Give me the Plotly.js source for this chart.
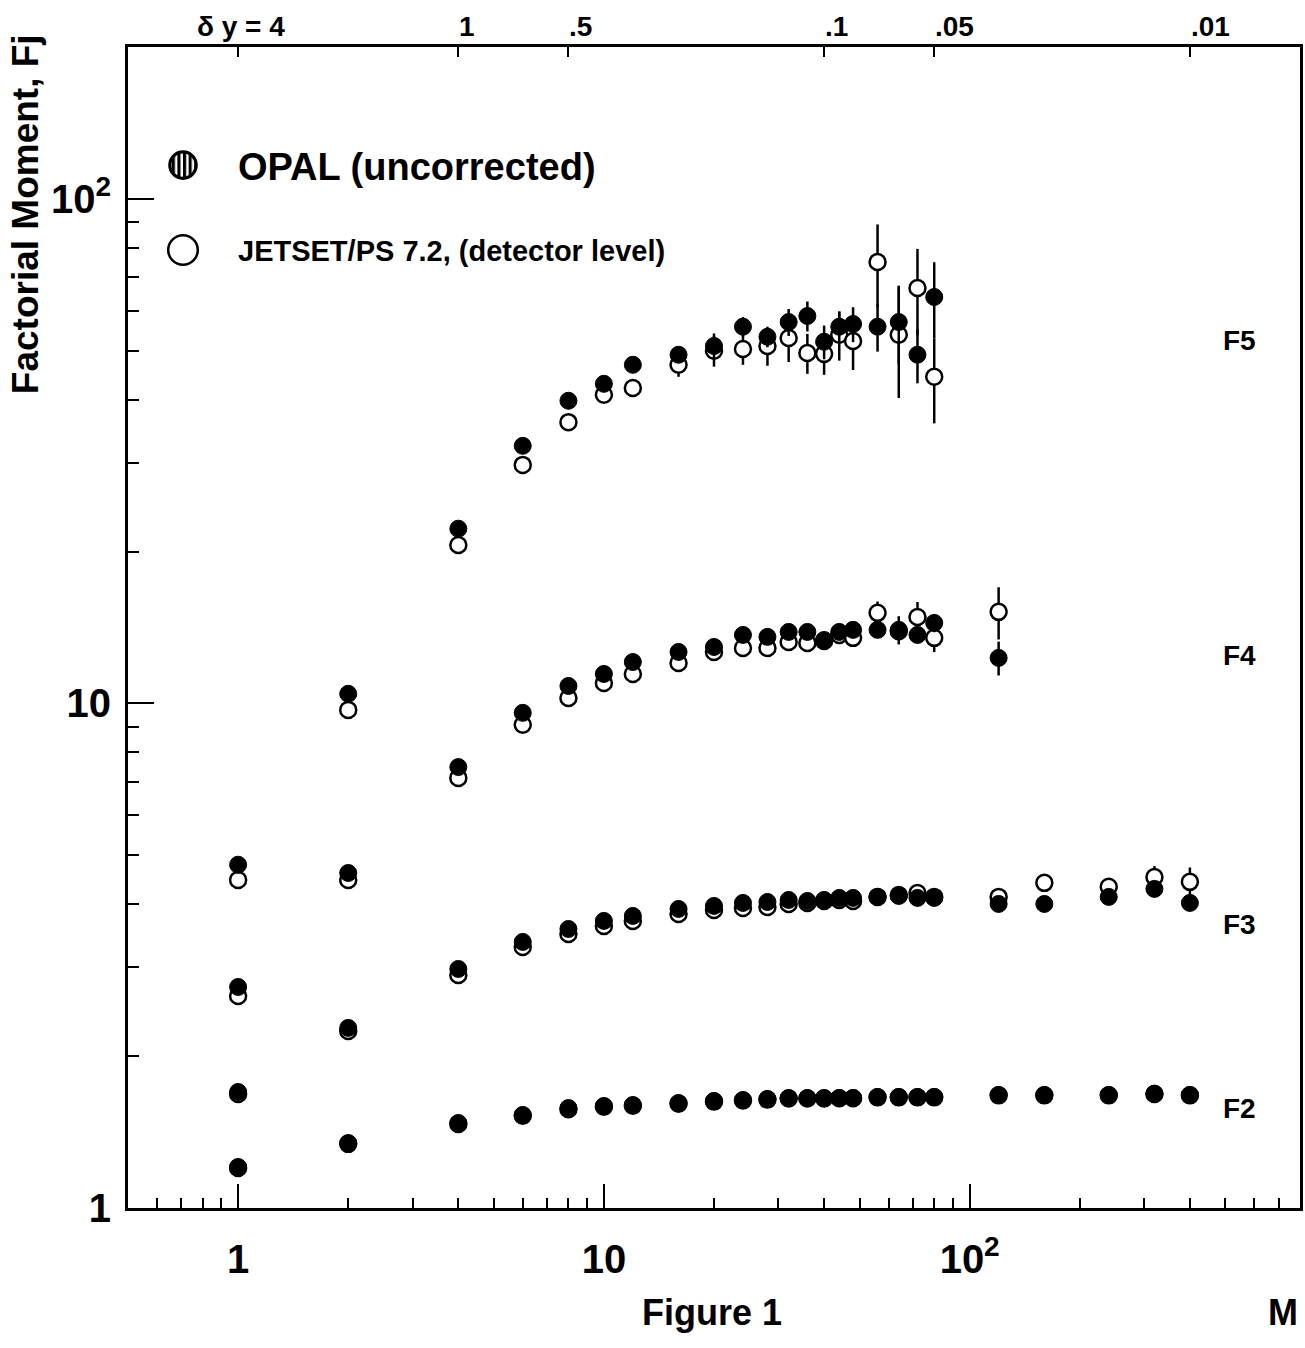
<!DOCTYPE html>
<html>
<head>
<meta charset="utf-8">
<script src="https://cdn.plot.ly/plotly-3.0.1.min.js"></script>
<style>
html,body{margin:0;padding:0;background:#ffffff;}
#chart{width:1305px;height:1348px;}
</style>
</head>
<body>
<div id="chart"></div>
<script>
// ---------- data ----------
const M_ALL = [1, 2, 4, 6, 8, 10, 12, 16, 20, 24, 28, 32, 36, 40, 44, 48, 56, 64, 72, 80, 120, 160, 240, 320, 400];
const M_F4 = [1, 2, 4, 6, 8, 10, 12, 16, 20, 24, 28, 32, 36, 40, 44, 48, 56, 64, 72, 80, 120];
const M_F5 = [1, 2, 4, 6, 8, 10, 12, 16, 20, 24, 28, 32, 36, 40, 44, 48, 56, 64, 72, 80];

const F2_OPAL   = [1.206, 1.345, 1.474, 1.529, 1.578, 1.593, 1.600, 1.615, 1.630, 1.637, 1.645, 1.652, 1.652, 1.652, 1.652, 1.652, 1.660, 1.660, 1.660, 1.660, 1.675, 1.675, 1.675, 1.685, 1.675];
const F2_JETSET = [1.200, 1.340, 1.468, 1.524, 1.570, 1.588, 1.595, 1.610, 1.625, 1.633, 1.640, 1.648, 1.648, 1.648, 1.650, 1.650, 1.657, 1.657, 1.657, 1.657, 1.672, 1.672, 1.672, 1.682, 1.672];

const F3_OPAL   = [1.698, 2.275, 2.977, 3.368, 3.573, 3.707, 3.792, 3.915, 3.969, 4.024, 4.042, 4.079, 4.060, 4.079, 4.117, 4.117, 4.136, 4.155, 4.117, 4.117, 4.005, 4.005, 4.136, 4.290, 4.024];
const F3_JETSET = [1.683, 2.243, 2.896, 3.292, 3.492, 3.623, 3.707, 3.826, 3.897, 3.933, 3.950, 4.005, 4.024, 4.060, 4.079, 4.060, 4.136, 4.170, 4.210, 4.136, 4.136, 4.410, 4.330, 4.530, 4.430];
const F3_OPAL_ERR   = [0, 0, 0, 0, 0, 0, 0, 0, 0, 0, 0, 0, 0, 0, 0, 0, 0, 0, 0, 0, 0.04, 0.05, 0.05, 0.08, 0.08];
const F3_JETSET_ERR = [0, 0, 0, 0, 0, 0, 0, 0, 0, 0, 0, 0, 0, 0, 0, 0, 0, 0, 0, 0, 0.05, 0.06, 0.08, 0.23, 0.30];

const F4_OPAL   = [2.742, 4.613, 7.48, 9.58, 10.83, 11.44, 12.08, 12.65, 12.94, 13.67, 13.55, 13.86, 13.86, 13.36, 13.86, 13.99, 13.99, 13.99, 13.67, 14.44, 12.31];
const F4_JETSET = [2.632, 4.468, 7.12, 9.07, 10.25, 10.98, 11.44, 12.03, 12.65, 12.88, 12.88, 13.24, 13.18, 13.30, 13.67, 13.49, 15.12, 13.90, 14.84, 13.49, 15.19];
const F4_OPAL_ERR   = [0, 0, 0, 0, 0, 0, 0, 0, 0, 0, 0, 0, 0, 0, 0.2, 0.2, 0.5, 0.9, 0.5, 0.6, 0.95];
const F4_JETSET_ERR = [0, 0, 0, 0, 0, 0, 0, 0, 0, 0, 0, 0, 0, 0, 0.3, 0.3, 0.8, 0.5, 1.05, 0.85, 1.8];

const F5_OPAL   = [4.79, 10.45, 22.2, 32.4, 39.8, 43.0, 46.9, 49.1, 51.1, 55.8, 53.3, 57.0, 58.6, 52.1, 55.8, 56.5, 55.8, 57.0, 49.1, 63.9];
const F5_JETSET = [4.47, 9.71, 20.6, 29.7, 36.1, 40.9, 42.2, 46.9, 50.0, 50.4, 51.1, 53.0, 49.5, 49.3, 53.8, 52.3, 75.0, 53.8, 66.6, 44.4];
const F5_OPAL_ERR   = [0, 0, 0, 0, 0, 0, 0, 1.2, 3.0, 2.5, 2.5, 3.5, 4.0, 4.0, 4.0, 4.5, 6.0, 10.0, 6.0, 11.0];
const F5_JETSET_ERR = [0, 0, 0, 0, 1.0, 1.5, 1.5, 2.5, 3.5, 3.5, 4.4, 5.5, 4.5, 4.5, 6.0, 6.5, 14.0, 13.5, 13.0, 8.5];

const X_TICKS = [1, 10, 100];
const X_TICKTEXT = ['1', '10', '10<sup>2</sup>'];
const Y_TICKS = [1, 10, 100];
const Y_TICKTEXT = ['1', '10', '10<sup>2</sup>'];
const TOP_TICKS_M = [1, 4, 8, 40, 80, 400];
const TOP_TICKTEXT = ['δ y = 4', '1', '.5', '.1', '.05', '.01'];
const CURVE_LABELS = ['F5', 'F4', 'F3', 'F2'];
const LEGEND_NAMES = ['OPAL (uncorrected)', 'JETSET/PS 7.2, (detector level)'];

// ---------- styling ----------
const FAM = 'Liberation Sans, Arial, Helvetica, sans-serif';
const bold = (s) => ({family: FAM, size: s, color: '#000000', weight: 'bold'});

function errObj(arr) {
  return {type: 'data', array: arr, visible: true, color: '#000000', thickness: 2.5, width: 0};
}
function jetTrace(x, y, err, showLegend) {
  return {
    type: 'scatter', mode: 'markers', x: x, y: y, name: LEGEND_NAMES[1],
    legend: 'legend2', legendgroup: 'jet', showlegend: showLegend,
    marker: {symbol: 'circle', size: 16, color: '#ffffff', line: {color: '#000000', width: 2.5}},
    error_y: err ? errObj(err) : {visible: false},
    hoverinfo: 'skip'
  };
}
function opalTrace(x, y, err, showLegend) {
  return {
    type: 'scatter', mode: 'markers', x: x, y: y, name: LEGEND_NAMES[0],
    legend: 'legend', legendgroup: 'opal', showlegend: showLegend,
    marker: {symbol: 'circle', size: 17, color: '#000000', line: {color: '#000000', width: 1}},
    error_y: err ? errObj(err) : {visible: false},
    hoverinfo: 'skip'
  };
}

const traces = [
  jetTrace(M_ALL, F2_JETSET, null, false),
  jetTrace(M_ALL, F3_JETSET, F3_JETSET_ERR, false),
  jetTrace(M_F4, F4_JETSET, F4_JETSET_ERR, false),
  jetTrace(M_F5, F5_JETSET, F5_JETSET_ERR, true),
  opalTrace(M_ALL, F2_OPAL, null, false),
  opalTrace(M_ALL, F3_OPAL, F3_OPAL_ERR, false),
  opalTrace(M_F4, F4_OPAL, F4_OPAL_ERR, false),
  opalTrace(M_F5, F5_OPAL, F5_OPAL_ERR, true),
  {type: 'scatter', mode: 'markers', x: [], y: [], xaxis: 'x2', yaxis: 'y', showlegend: false, hoverinfo: 'skip'}
];

const X_RANGE = [Math.log10(0.5), Math.log10(800)];
const Y_RANGE = [0, Math.log10(200)];

const xMinor = [0.6, 0.7, 0.8, 0.9, 2, 3, 4, 5, 6, 7, 8, 9, 20, 30, 40, 50, 60, 70, 80, 90, 200, 300, 400, 500, 600, 700];
const yMinor = [2, 3, 4, 5, 6, 7, 8, 9, 20, 30, 40, 50, 60, 70, 80, 90];

const annotations = [];
TOP_TICKS_M.forEach((m, i) => {
  annotations.push({
    text: TOP_TICKTEXT[i], xref: 'x', yref: 'paper', x: Math.log10(m), y: 1.0175,
    xanchor: i === 0 ? 'center' : 'left', yanchor: 'middle', xshift: i === 0 ? 3 : -1,
    showarrow: false, font: bold(28)
  });
});
annotations.push({text: 'Factorial Moment, Fj', xref: 'paper', yref: 'paper', x: -0.0879, y: 0.856,
  xanchor: 'center', yanchor: 'middle', textangle: -90, showarrow: false, font: bold(37)});
annotations.push({text: 'Figure 1', xref: 'paper', yref: 'paper', x: 0.4983, y: -0.0904,
  xanchor: 'center', yanchor: 'middle', showarrow: false, font: bold(36)});
annotations.push({text: 'M', xref: 'paper', yref: 'paper', x: 0.9855, y: -0.0904,
  xanchor: 'center', yanchor: 'middle', showarrow: false, font: bold(36)});
const CURVE_LABEL_Y = [0.7476, 0.4763, 0.2438, 0.0861];
CURVE_LABELS.forEach((t, i) => {
  annotations.push({text: t, xref: 'paper', yref: 'paper', x: 0.9488, y: CURVE_LABEL_Y[i],
    xanchor: 'center', yanchor: 'middle', showarrow: false, font: bold(28)});
});

const layout = {
  width: 1305, height: 1348,
  margin: {l: 128, r: 5, t: 47, b: 140, pad: 0},
  paper_bgcolor: '#ffffff', plot_bgcolor: '#ffffff',
  font: {family: FAM, color: '#000000'},
  showlegend: true,
  xaxis: {
    type: 'log', range: X_RANGE, tickmode: 'array', tickvals: X_TICKS, ticktext: X_TICKTEXT,
    ticks: 'inside', ticklen: 24, tickwidth: 2, tickcolor: '#000000',
    showline: true, linewidth: 3, linecolor: '#000000', showgrid: false, zeroline: false,
    tickfont: bold(40), ticklabelstandoff: 14,
    minor: {tickmode: 'array', tickvals: xMinor, ticks: 'inside', ticklen: 10, tickwidth: 2, tickcolor: '#000000', showgrid: false}
  },
  xaxis2: {
    type: 'log', range: X_RANGE, overlaying: 'x', side: 'top', anchor: 'y',
    tickmode: 'array', tickvals: TOP_TICKS_M, showticklabels: false,
    ticks: 'inside', ticklen: 10, tickwidth: 2, tickcolor: '#000000',
    showline: true, linewidth: 3, linecolor: '#000000', showgrid: false, zeroline: false
  },
  yaxis: {
    type: 'log', range: Y_RANGE, tickmode: 'array', tickvals: Y_TICKS, ticktext: Y_TICKTEXT,
    ticks: 'inside', ticklen: 26, tickwidth: 2, tickcolor: '#000000',
    showline: true, linewidth: 3, linecolor: '#000000', mirror: true, showgrid: false, zeroline: false,
    tickfont: bold(40), ticklabelstandoff: 6,
    minor: {tickmode: 'array', tickvals: yMinor, ticks: 'inside', ticklen: 11, tickwidth: 2, tickcolor: '#000000', showgrid: false}
  },
  legend: {
    x: 0.0, xanchor: 'left', y: 0.898, yanchor: 'middle',
    font: bold(38), itemwidth: 100, bgcolor: 'rgba(0,0,0,0)', borderwidth: 0
  },
  legend2: {
    x: 0.0, xanchor: 'left', y: 0.825, yanchor: 'middle',
    font: bold(29), itemwidth: 100, bgcolor: 'rgba(0,0,0,0)', borderwidth: 0
  },
  annotations: annotations
};

Plotly.newPlot('chart', traces, layout, {staticPlot: true, displayModeBar: false}).then(function () {
  const NS = 'http://www.w3.org/2000/svg';
  // vertical hatch pattern for the OPAL key symbol, as in the reference key
  const svg = document.querySelector('#chart svg.main-svg');
  if (svg) {
    let defs = svg.querySelector('defs');
    if (!defs) { defs = document.createElementNS(NS, 'defs'); svg.insertBefore(defs, svg.firstChild); }
    const pat = document.createElementNS(NS, 'pattern');
    pat.setAttribute('id', 'opalHatch');
    pat.setAttribute('patternUnits', 'userSpaceOnUse');
    pat.setAttribute('width', '3.4');
    pat.setAttribute('height', '10');
    const bg = document.createElementNS(NS, 'rect');
    bg.setAttribute('width', '3.4'); bg.setAttribute('height', '10'); bg.setAttribute('fill', '#ffffff');
    const ln = document.createElementNS(NS, 'rect');
    ln.setAttribute('width', '1.9'); ln.setAttribute('height', '10'); ln.setAttribute('fill', '#000000');
    pat.appendChild(bg); pat.appendChild(ln);
    defs.appendChild(pat);
  }
  // enlarge the legend symbols to the size used in the reference key
  const scaleSym = (sel, k, hatch) => {
    document.querySelectorAll(sel).forEach(function (p) {
      p.setAttribute('transform', (p.getAttribute('transform') || '') + ' scale(' + k + ')');
      p.setAttribute('vector-effect', 'non-scaling-stroke');
      if (hatch) { p.style.fill = 'url(#opalHatch)'; p.style.stroke = '#000000'; p.style.strokeWidth = '3.2px'; }
    });
  };
  scaleSym('g.legend path.scatterpts', 1.65, true);
  scaleSym('g.legend2 path.scatterpts', 1.85, false);
  // drop empty placeholder text nodes (e.g. empty legend titles)
  document.querySelectorAll('#chart text').forEach(function (t) {
    if (!t.textContent || !t.textContent.trim()) { t.parentNode.removeChild(t); }
  });
});
</script>
</body>
</html>
